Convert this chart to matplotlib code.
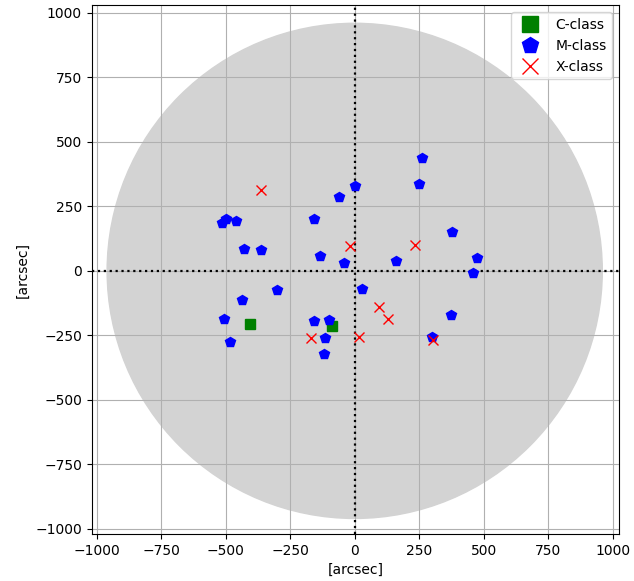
import matplotlib
matplotlib.use("Agg")
import matplotlib.pyplot as plt
import matplotlib.patches as mpatches
import numpy as np

# flare positions in arcsec (helioprojective)
c_x = [-405, -89]
c_y = [-206, -214]

m_x = [1, -59, -515, -498, -459, -156, -429, -364, -136, -41, 161, -302, 28,
       -436, -507, -159, -99, -114, -483, -121, 260, 250, 378, 476, 457, 375, 300]
m_y = [328, 287, 186, 202, 193, 203, 83, 80, 57, 29, 38, -75, -72,
       -111, -187, -195, -190, -259, -275, -324, 436, 335, 150, 51, -7, -170, -257]

x_x = [-363, -18, 232, 94, 131, -171, 18, 304]
x_y = [313, 96, 100, -142, -186, -259, -255, -268]

sun_radius = 960

fig = plt.figure(figsize=(6.34, 5.81), dpi=100)
ax = fig.add_axes([0.143, 0.081, 0.835, 0.910])

# solar disk
disk = mpatches.Circle((0, 0), sun_radius, color='lightgrey', zorder=0)
ax.add_patch(disk)

ax.grid(True)
ax.axhline(0, color='k', linestyle=':', linewidth=1.6)
ax.axvline(0, color='k', linestyle=':', linewidth=1.6)

ax.plot(c_x, c_y, 's', color='green', markersize=7, linestyle='none', label='C-class')
ax.plot(m_x, m_y, 'p', color='blue', markersize=7, linestyle='none', label='M-class')
ax.plot(x_x, x_y, 'x', color='red', markersize=6.5, linestyle='none', label='X-class')

ax.set_xlim(-1020, 1025)
ax.set_ylim(-1020, 1030)
ax.set_aspect('equal', adjustable='box')
ax.set_xticks(np.arange(-1000, 1001, 250))
ax.set_yticks(np.arange(-1000, 1001, 250))
ax.set_xlabel('[arcsec]')
ax.set_ylabel('[arcsec]')
ax.legend(loc='upper right', markerscale=1.7)

fig.savefig('out.png', dpi=100)
